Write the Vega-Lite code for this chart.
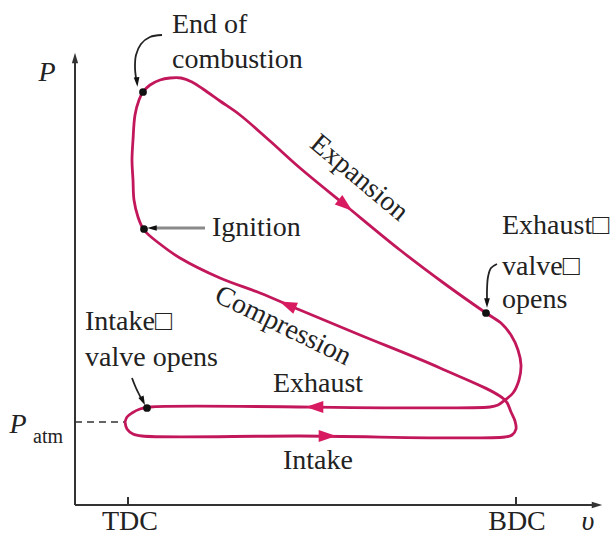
{
  "$schema": "https://vega.github.io/schema/vega-lite/v6.json",
  "width": 612,
  "height": 536,
  "padding": 0,
  "autosize": {"type": "fit", "contains": "padding"},
  "background": "white",
  "config": {"view": {"stroke": null}},
  "datasets": {
    "cycle": [
      {"i": 1, "v": 50, "p": 83}, {"i": 2, "v": 52, "p": 76}, {"i": 3, "v": 58, "p": 71}, {"i": 4, "v": 67, "p": 69},
      {"i": 5, "v": 225, "p": 69}, {"i": 6, "v": 430, "p": 68}, {"i": 7, "v": 437, "p": 70}, {"i": 8, "v": 441, "p": 76},
      {"i": 9, "v": 440, "p": 84}, {"i": 10, "v": 436, "p": 93}, {"i": 11, "v": 430, "p": 105}, {"i": 12, "v": 365, "p": 137},
      {"i": 13, "v": 285, "p": 170}, {"i": 14, "v": 225, "p": 195}, {"i": 15, "v": 185, "p": 212}, {"i": 16, "v": 145, "p": 227},
      {"i": 17, "v": 105, "p": 247}, {"i": 18, "v": 85, "p": 261}, {"i": 19, "v": 69, "p": 275}, {"i": 20, "v": 63, "p": 288},
      {"i": 21, "v": 59, "p": 305}, {"i": 22, "v": 58, "p": 325}, {"i": 23, "v": 57, "p": 345}, {"i": 24, "v": 58, "p": 365},
      {"i": 25, "v": 60, "p": 390}, {"i": 26, "v": 64, "p": 405}, {"i": 27, "v": 68, "p": 413}, {"i": 28, "v": 75, "p": 420},
      {"i": 29, "v": 85, "p": 425}, {"i": 30, "v": 95, "p": 427}, {"i": 31, "v": 106, "p": 427}, {"i": 32, "v": 117, "p": 423},
      {"i": 33, "v": 128, "p": 416}, {"i": 34, "v": 145, "p": 404}, {"i": 35, "v": 165, "p": 390}, {"i": 36, "v": 195, "p": 364},
      {"i": 37, "v": 225, "p": 337}, {"i": 38, "v": 270, "p": 300}, {"i": 39, "v": 325, "p": 255}, {"i": 40, "v": 370, "p": 221},
      {"i": 41, "v": 411, "p": 192}, {"i": 42, "v": 426, "p": 182}, {"i": 43, "v": 436, "p": 170}, {"i": 44, "v": 443, "p": 155},
      {"i": 45, "v": 446, "p": 140}, {"i": 46, "v": 444, "p": 125}, {"i": 47, "v": 438, "p": 112}, {"i": 48, "v": 430, "p": 105},
      {"i": 49, "v": 423, "p": 100}, {"i": 50, "v": 415, "p": 98}, {"i": 51, "v": 75, "p": 98}, {"i": 52, "v": 65, "p": 96},
      {"i": 53, "v": 57, "p": 92}, {"i": 54, "v": 52, "p": 88}, {"i": 55, "v": 50, "p": 83}
    ],
    "axes": [
      {"name": "P axis", "v": 0, "p": 0, "v2": 0, "p2": 443},
      {"name": "v axis", "v": 0, "p": 0, "v2": 518, "p2": 0},
      {"name": "TDC tick", "v": 53, "p": 0, "v2": 53, "p2": 8},
      {"name": "BDC tick", "v": 441, "p": 0, "v2": 441, "p2": 8}
    ],
    "patm": [{"v": 0, "p": 83, "v2": 50, "p2": 83}],
    "ann": [
      {"seg": "eoc", "i": 1, "v": 87, "p": 470}, {"seg": "eoc", "i": 2, "v": 75, "p": 468}, {"seg": "eoc", "i": 3, "v": 66, "p": 461},
      {"seg": "eoc", "i": 4, "v": 61, "p": 450}, {"seg": "eoc", "i": 5, "v": 60, "p": 437}, {"seg": "eoc", "i": 6, "v": 61, "p": 427},
      {"seg": "evo", "i": 1, "v": 422, "p": 241}, {"seg": "evo", "i": 2, "v": 416, "p": 237}, {"seg": "evo", "i": 3, "v": 413, "p": 228},
      {"seg": "evo", "i": 4, "v": 412, "p": 215}, {"seg": "evo", "i": 5, "v": 412, "p": 206},
      {"seg": "ivo", "i": 1, "v": 57, "p": 127}, {"seg": "ivo", "i": 2, "v": 61, "p": 117}, {"seg": "ivo", "i": 3, "v": 66, "p": 107}
    ],
    "ign": [{"seg": "ign", "i": 1, "v": 130, "p": 277}, {"seg": "ign", "i": 2, "v": 81, "p": 277}],
    "dots": [
      {"event": "End of combustion", "v": 68, "p": 413},
      {"event": "Ignition", "v": 69, "p": 276},
      {"event": "Exhaust valve opens", "v": 411, "p": 192},
      {"event": "Intake valve opens", "v": 72, "p": 97}
    ],
    "leftText": [
      {"label": "End of", "v": 97, "p": 480},
      {"label": "combustion", "v": 97, "p": 445},
      {"label": "Ignition", "v": 137, "p": 277},
      {"label": "Exhaust□", "v": 427, "p": 279},
      {"label": "valve□", "v": 427, "p": 238},
      {"label": "opens", "v": 427, "p": 205},
      {"label": "Intake□", "v": 10, "p": 183},
      {"label": "valve opens", "v": 10, "p": 147}
    ],
    "centerText": [
      {"label": "Exhaust", "v": 243, "p": 121},
      {"label": "Intake", "v": 243, "p": 44},
      {"label": "TDC", "v": 55, "p": -17},
      {"label": "BDC", "v": 442, "p": -17}
    ],
    "italicText": [
      {"label": "υ", "v": 513, "p": -17},
      {"label": "P", "v": -28, "p": 432},
      {"label": "P", "v": -57, "p": 80}
    ]
  },
  "encoding": {
    "x": {"field": "v", "type": "quantitative", "scale": {"domain": [-75, 537], "nice": false, "zero": false}, "axis": null},
    "y": {"field": "p", "type": "quantitative", "scale": {"domain": [-31, 505], "nice": false, "zero": false}, "axis": null}
  },
  "layer": [
    {
      "data": {"name": "axes"},
      "mark": {"type": "rule", "color": "#333333", "strokeWidth": 2},
      "encoding": {"x2": {"field": "v2"}, "y2": {"field": "p2"}}
    },
    {
      "data": {"name": "patm"},
      "mark": {"type": "rule", "color": "#333333", "strokeWidth": 1.5, "strokeDash": [7, 5]},
      "encoding": {"x2": {"field": "v2"}, "y2": {"field": "p2"}}
    },
    {
      "data": {"values": [{"v": 0, "p": 447}]},
      "mark": {"type": "point", "shape": "M0,-1L0.6,1L-0.6,1Z", "filled": true, "color": "#333333", "size": 110, "angle": 0, "opacity": 1}
    },
    {
      "data": {"values": [{"v": 522, "p": 0}]},
      "mark": {"type": "point", "shape": "M0,-1L0.6,1L-0.6,1Z", "filled": true, "color": "#333333", "size": 110, "angle": 90, "opacity": 1}
    },
    {
      "data": {"name": "cycle"},
      "mark": {"type": "line", "color": "#c2185b", "strokeWidth": 2.8, "interpolate": "catmull-rom"},
      "encoding": {"order": {"field": "i", "type": "quantitative"}}
    },
    {
      "data": {"values": [{"process": "Expansion", "v": 270, "p": 300}]},
      "mark": {"type": "point", "shape": "M0,-1L0.65,0.9L-0.65,0.9Z", "filled": true, "color": "#d81b60", "size": 340, "angle": 129, "opacity": 1}
    },
    {
      "data": {"values": [{"process": "Compression", "v": 213, "p": 200}]},
      "mark": {"type": "point", "shape": "M0,-1L0.65,0.9L-0.65,0.9Z", "filled": true, "color": "#d81b60", "size": 340, "angle": 293, "opacity": 1}
    },
    {
      "data": {"values": [{"process": "Exhaust", "v": 240, "p": 98}]},
      "mark": {"type": "point", "shape": "M0,-1L0.65,0.9L-0.65,0.9Z", "filled": true, "color": "#d81b60", "size": 340, "angle": 270, "opacity": 1}
    },
    {
      "data": {"values": [{"process": "Intake", "v": 252, "p": 69}]},
      "mark": {"type": "point", "shape": "M0,-1L0.65,0.9L-0.65,0.9Z", "filled": true, "color": "#d81b60", "size": 340, "angle": 90, "opacity": 1}
    },
    {
      "data": {"name": "ann"},
      "mark": {"type": "line", "color": "#222222", "strokeWidth": 1.8, "interpolate": "catmull-rom"},
      "encoding": {"detail": {"field": "seg"}, "order": {"field": "i", "type": "quantitative"}}
    },
    {
      "data": {"name": "ign"},
      "mark": {"type": "line", "color": "#8a8a8a", "strokeWidth": 3},
      "encoding": {"order": {"field": "i", "type": "quantitative"}}
    },
    {
      "data": {"values": [{"v": 62, "p": 423}]},
      "mark": {"type": "point", "shape": "M0,-1L0.6,1L-0.6,1Z", "filled": true, "color": "#111111", "size": 90, "angle": 175, "opacity": 1}
    },
    {
      "data": {"values": [{"v": 77, "p": 277}]},
      "mark": {"type": "point", "shape": "M0,-1L0.6,1L-0.6,1Z", "filled": true, "color": "#111111", "size": 90, "angle": 270, "opacity": 1}
    },
    {
      "data": {"values": [{"v": 412, "p": 202}]},
      "mark": {"type": "point", "shape": "M0,-1L0.6,1L-0.6,1Z", "filled": true, "color": "#111111", "size": 90, "angle": 180, "opacity": 1}
    },
    {
      "data": {"values": [{"v": 68, "p": 104}]},
      "mark": {"type": "point", "shape": "M0,-1L0.6,1L-0.6,1Z", "filled": true, "color": "#111111", "size": 90, "angle": 155, "opacity": 1}
    },
    {
      "data": {"name": "dots"},
      "mark": {"type": "circle", "color": "#111111", "size": 60, "opacity": 1}
    },
    {
      "data": {"name": "leftText"},
      "mark": {"type": "text", "font": "Liberation Serif", "fontSize": 28, "align": "left", "baseline": "middle", "color": "#222222"},
      "encoding": {"text": {"field": "label"}}
    },
    {
      "data": {"name": "centerText"},
      "mark": {"type": "text", "font": "Liberation Serif", "fontSize": 28, "align": "center", "baseline": "middle", "color": "#222222"},
      "encoding": {"text": {"field": "label"}}
    },
    {
      "data": {"values": [{"label": "Expansion", "v": 284, "p": 327}]},
      "mark": {"type": "text", "font": "Liberation Serif", "fontSize": 28, "align": "center", "baseline": "middle", "color": "#222222", "angle": 40},
      "encoding": {"text": {"field": "label"}}
    },
    {
      "data": {"values": [{"label": "Compression", "v": 208, "p": 179}]},
      "mark": {"type": "text", "font": "Liberation Serif", "fontSize": 28, "align": "center", "baseline": "middle", "color": "#222222", "angle": 26},
      "encoding": {"text": {"field": "label"}}
    },
    {
      "data": {"name": "italicText"},
      "mark": {"type": "text", "font": "Liberation Serif", "fontSize": 28, "fontStyle": "italic", "align": "center", "baseline": "middle", "color": "#222222"},
      "encoding": {"text": {"field": "label"}}
    },
    {
      "data": {"values": [{"label": "atm", "v": -27, "p": 68}]},
      "mark": {"type": "text", "font": "Liberation Serif", "fontSize": 20, "align": "center", "baseline": "middle", "color": "#222222"},
      "encoding": {"text": {"field": "label"}}
    }
  ]
}
